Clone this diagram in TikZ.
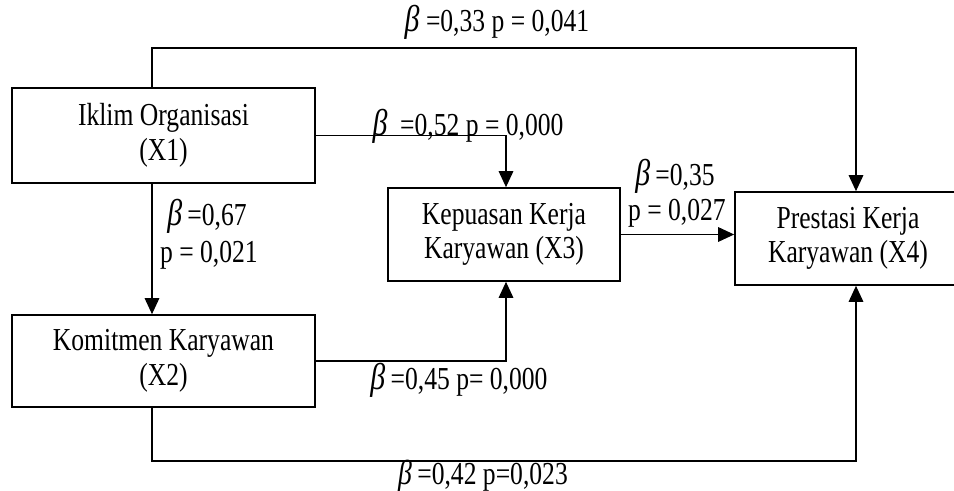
\documentclass[tikz,border=0pt]{standalone}
\usepackage{fontspec}
\setmainfont{Liberation Serif}[FakeStretch=0.8]
\usetikzlibrary{arrows.meta}
\newcommand{\bt}{{\fontsize{28}{26}\selectfont\itshape β}}
\newcommand{\btsmall}{{\fontsize{26}{26}\selectfont\itshape β}}
\begin{document}
\begin{tikzpicture}[x=0.75pt,y=-0.75pt,
  box/.style={draw,line width=1.3pt,rectangle,align=center,inner sep=0pt,
    font=\fontsize{24}{26}\selectfont},
  conn/.style={line width=0.8pt,-{Triangle[width=11pt,length=12pt]}},
  lbl/.style={inner sep=0pt,font=\fontsize{24}{26}\selectfont}]
\useasboundingbox (0,0) rectangle (954,491);
\clip (0,0) rectangle (954,491);
\node[box,minimum width=227.25pt,minimum height=71.25pt] (X1) at (163.5,135.5) {Iklim Organisasi\\(X1)};
\node[box,minimum width=227.25pt,minimum height=69pt] (X2) at (163.5,361) {Komitmen Karyawan\\(X2)};
\node[box,minimum width=174pt,minimum height=69.75pt] (X3) at (504,234.5) {Kepuasan Kerja\\Karyawan (X3)};
\node[box,minimum width=169.5pt,minimum height=69.75pt] (X4) at (848,238.5) {Prestasi Kerja\\Karyawan (X4)};
\coordinate (c1) at (152,0);
\coordinate (c3) at (506,0);
\coordinate (c4) at (856,0);
\coordinate (yT) at (0,48);
\coordinate (yB) at (0,461);
\draw[conn] (X1.north -| c1) -- (c1 |- yT) -- (c4 |- yT) -- (X4.north -| c4);
\draw[conn] (X1.east) -| (X3.north -| c3);
\draw[conn] (X1.south -| c1) -- (X2.north -| c1);
\draw[conn] (X3.east) -- (X4.west |- X3.east);
\draw[conn] (X2.east) -| (X3.south -| c3);
\draw[conn] (X2.south -| c1) -- (c1 |- yB) -- (c4 |- yB) -- (X4.south -| c4);
\node[lbl] (L1) at (497,22) {\bt\ =0,33 p = 0,041};
\node[lbl] (L2) at (468,126) {\bt\ \ =0,52 p = 0,000};
\node[lbl] (L3) at (675,176) {\bt\,=0,35};
\node[lbl] (L4) at (677,213) {p = 0,027};
\node[lbl] (L5) at (207,216) {\bt\,=0,67};
\node[lbl] (L6) at (209,255) {p = 0,021};
\node[lbl] (L7) at (459,380) {\bt\,=0,45 p= 0,000};
\node[lbl] (L8) at (483,476) {\btsmall\,=0,42 p=0,023};
\end{tikzpicture}
\end{document}
